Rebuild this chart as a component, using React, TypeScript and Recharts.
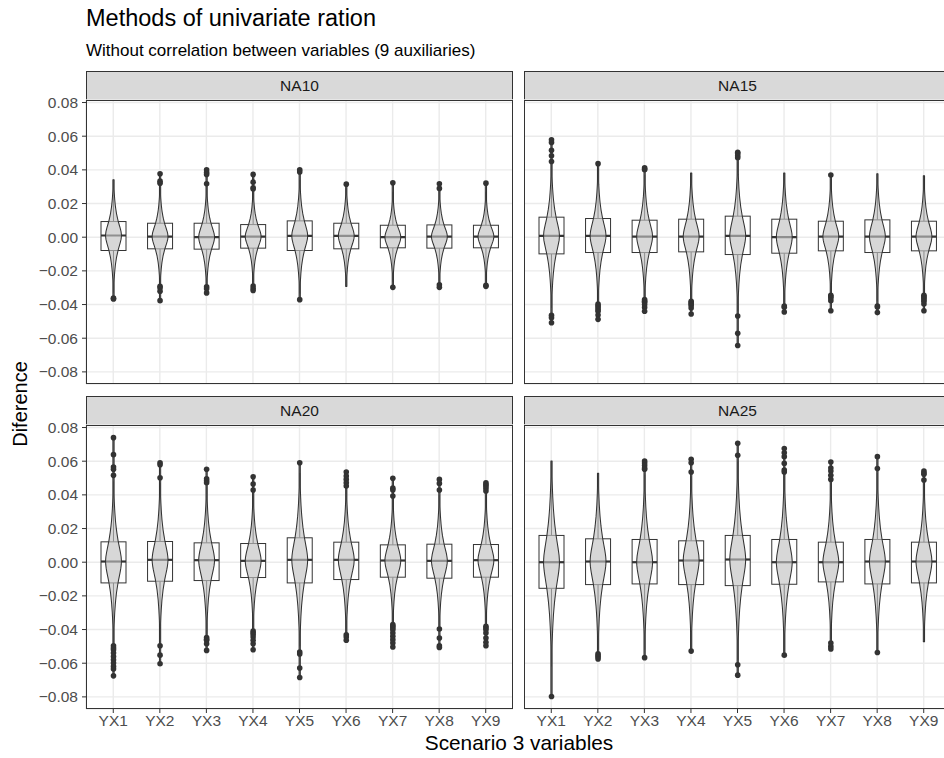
import { Bar, CartesianGrid, ComposedChart, XAxis, YAxis } from "recharts";

const categories = ["YX1", "YX2", "YX3", "YX4", "YX5", "YX6", "YX7", "YX8", "YX9"];
const yTicks = [-0.08, -0.06, -0.04, -0.02, 0, 0.02, 0.04, 0.06, 0.08];

// NA10
const na10Q1 = [-0.0079, -0.0069, -0.0071, -0.0065, -0.0079, -0.0069, -0.0063, -0.0065, -0.0063];
const na10Median = [0.001, 0.0004, 0, 0.0004, 0.0008, 0.0008, 0, 0.0004, 0.0004];
const na10Q3 = [0.0093, 0.0083, 0.0083, 0.0075, 0.0097, 0.0083, 0.0071, 0.0073, 0.0071];
const na10Low = [-0.033, -0.0285, -0.028, -0.027, -0.0335, -0.0292, -0.0265, -0.0265, -0.0265];
const na10High = [0.0341, 0.0305, 0.03, 0.027, 0.034, 0.0295, 0.027, 0.027, 0.027];
const na10Outliers = [
  [-0.0367, -0.0362],
  [0.0377, 0.0333, 0.0321, -0.0292, -0.0302, -0.0321, -0.0377],
  [0.0401, 0.0385, 0.0373, 0.0317, -0.0294, -0.0306, -0.0331],
  [0.0373, 0.0327, 0.0294, 0.0286, -0.029, -0.0304, -0.0317],
  [0.04, 0.0388, -0.0371],
  [0.0315],
  [0.0323, -0.0298],
  [0.0317, 0.029, -0.0282, -0.0298],
  [0.0321, -0.0286, -0.0292],
];

// NA15
const na15Q1 = [-0.0099, -0.0091, -0.0091, -0.0087, -0.0103, -0.0095, -0.0081, -0.0091, -0.0081];
const na15Median = [0.0008, 0.0008, 0.0004, 0.0004, 0.0008, 0, 0.0004, 0.0004, 0.0004];
const na15Q3 = [0.0119, 0.0111, 0.0101, 0.0107, 0.0125, 0.0107, 0.0095, 0.0103, 0.0095];
const na15Low = [-0.042, -0.0385, -0.036, -0.037, -0.044, -0.0395, -0.033, -0.038, -0.033];
const na15High = [0.043, 0.041, 0.037, 0.0381, 0.045, 0.0381, 0.035, 0.0377, 0.0365];
const na15Outliers = [
  [0.0579, 0.0563, 0.0516, 0.0484, 0.045, -0.0464, -0.0478, -0.0508],
  [0.0437, -0.0397, -0.0407, -0.0417, -0.043, -0.044, -0.0462, -0.0488],
  [0.0413, 0.0405, 0.0401, -0.0371, -0.038, -0.0387, -0.04, -0.0417, -0.044],
  [-0.0381, -0.039, -0.0397, -0.0405, -0.0421, -0.0456],
  [0.0504, 0.0497, 0.0484, 0.0472, -0.0468, -0.0571, -0.0643],
  [-0.0409, -0.0416, -0.0444],
  [0.0369, -0.0345, -0.0353, -0.0361, -0.0377, -0.0437],
  [-0.0409, -0.0415, -0.0448],
  [-0.0345, -0.0353, -0.0361, -0.0371, -0.0381, -0.0397, -0.0437],
];

// NA20
const na20Q1 = [-0.0123, -0.0113, -0.0109, -0.0091, -0.0123, -0.0103, -0.0089, -0.0095, -0.0089];
const na20Median = [0.0004, 0.0014, 0.0012, 0.0008, 0.0014, 0.0014, 0.001, 0.0008, 0.0012];
const na20Q3 = [0.0121, 0.0123, 0.0115, 0.0111, 0.0145, 0.0119, 0.0103, 0.0107, 0.0105];
const na20Low = [-0.048, -0.046, -0.043, -0.039, -0.05, -0.042, -0.0355, -0.038, -0.0365];
const na20High = [0.048, 0.047, 0.045, 0.041, 0.053, 0.044, 0.038, 0.04, 0.04];
const na20Outliers = [
  [0.074, 0.0639, 0.0565, 0.0552, 0.0516, -0.0496, -0.051, -0.052, -0.054, -0.056, -0.058, -0.0599, -0.0619, -0.0635, -0.0675],
  [0.0591, 0.0579, 0.0502, -0.0496, -0.0552, -0.0603],
  [0.0552, 0.0496, 0.0484, 0.0472, -0.0448, -0.0458, -0.0464, -0.0484, -0.0524],
  [0.0508, 0.0464, 0.0429, -0.0409, -0.0419, -0.0429, -0.0444, -0.0464, -0.0484, -0.052],
  [0.0591, -0.0534, -0.0545, -0.0629, -0.0685],
  [0.0536, 0.0512, 0.0492, 0.0472, 0.0452, -0.0431, -0.0444, -0.0464],
  [0.0498, 0.044, 0.0429, 0.0393, -0.0371, -0.0381, -0.0391, -0.0401, -0.0421, -0.044, -0.046, -0.048, -0.0504],
  [0.0492, 0.0468, 0.0429, -0.0397, -0.045, -0.0496, -0.0506],
  [0.0472, 0.0462, 0.0452, 0.044, 0.0423, -0.0381, -0.0391, -0.0401, -0.0421, -0.045, -0.0476, -0.0496],
];

// NA25
const na25Q1 = [-0.0155, -0.0133, -0.0129, -0.0133, -0.0139, -0.0131, -0.0117, -0.0129, -0.0123];
const na25Median = [0, 0.0004, 0, 0.001, 0.0016, 0, 0, 0.0004, 0.0004];
const na25Q3 = [0.0159, 0.0139, 0.0135, 0.0127, 0.0159, 0.0135, 0.0119, 0.0135, 0.0119];
const na25Low = [-0.062, -0.052, -0.052, -0.051, -0.058, -0.053, -0.046, -0.052, -0.0472];
const na25High = [0.0601, 0.0528, 0.052, 0.051, 0.06, 0.052, 0.047, 0.053, 0.047];
const na25Outliers = [
  [-0.0798],
  [-0.0544, -0.0555, -0.0563, -0.0575],
  [0.0601, 0.059, 0.0575, 0.056, 0.0552, -0.0567],
  [0.0611, 0.0591, 0.0536, -0.0528],
  [0.0706, 0.0635, -0.0609, -0.0671],
  [0.0675, 0.065, 0.0627, 0.0587, 0.0548, 0.0536, -0.0552],
  [0.0595, 0.056, 0.0542, 0.0516, 0.0492, -0.048, -0.05, -0.0516],
  [0.0627, 0.0556, -0.0536],
  [0.0542, 0.053, 0.0522, 0.0488],
];

// violin outline: relative half-width vs distance from the median (in half-IQRs)
const violinProfile = [
  [0, 1], [0.25, 0.95], [0.5, 0.84], [0.75, 0.71], [1, 0.58], [1.5, 0.38], [2, 0.24],
  [2.5, 0.15], [3, 0.09], [3.5, 0.055], [4, 0.033], [5, 0.013], [6, 0.005], [8, 0],
];

const buildRows = (q1: number[], med: number[], q3: number[], low: number[], high: number[], out: number[][]) =>
  categories.map((name, i) => ({
    name,
    range: [Math.min(low[i], ...out[i]), Math.max(high[i], ...out[i])],
    q1: q1[i],
    med: med[i],
    q3: q3[i],
    low: low[i],
    high: high[i],
    out: out[i],
  }));

const na10Rows = buildRows(na10Q1, na10Median, na10Q3, na10Low, na10High, na10Outliers);
const na15Rows = buildRows(na15Q1, na15Median, na15Q3, na15Low, na15High, na15Outliers);
const na20Rows = buildRows(na20Q1, na20Median, na20Q3, na20Low, na20High, na20Outliers);
const na25Rows = buildRows(na25Q1, na25Median, na25Q3, na25Low, na25High, na25Outliers);

const profileAt = (z: number) => {
  for (let i = 1; i < violinProfile.length; i++) {
    const [z1, w1] = violinProfile[i];
    if (z <= z1) {
      const [z0, w0] = violinProfile[i - 1];
      return w0 + ((z - z0) / (z1 - z0)) * (w1 - w0);
    }
  }
  return 0;
};

const DARK = "#333333";
const VIOLIN_HALF = 8;

const renderViolin = (props: any) => {
  const { x, y, width, height, payload } = props;
  const [lo, hi] = payload.range;
  const top = Math.min(y, y + height);
  const bottom = Math.max(y, y + height);
  // same linear scale the bar was placed with
  const toY = (v: number) => top + ((hi - v) / (hi - lo)) * (bottom - top);
  const cx = x + width / 2;
  const halfIqr = (payload.q3 - payload.q1) / 2;

  const steps = 60;
  const right: string[] = [];
  const left: string[] = [];
  for (let k = 0; k <= steps; k++) {
    const v = hi - ((hi - lo) * k) / steps;
    const w = Math.max(0.6, VIOLIN_HALF * profileAt(Math.abs(v - payload.med) / halfIqr));
    const py = toY(v).toFixed(2);
    right.push(`${(cx + w).toFixed(2)},${py}`);
    left.unshift(`${(cx - w).toFixed(2)},${py}`);
  }
  const d = `M${right.join("L")}L${left.join("L")}Z`;

  return (
    <g>
      <line x1={cx} x2={cx} y1={toY(payload.q3)} y2={toY(payload.high)} stroke={DARK} strokeWidth={1} />
      <line x1={cx} x2={cx} y1={toY(payload.q1)} y2={toY(payload.low)} stroke={DARK} strokeWidth={1} />
      <rect x={x} y={toY(payload.q3)} width={width} height={toY(payload.q1) - toY(payload.q3)} fill="#ffffff" stroke={DARK} strokeWidth={1} />
      <line x1={x} x2={x + width} y1={toY(payload.med)} y2={toY(payload.med)} stroke={DARK} strokeWidth={2.2} />
      <path d={d} fill="#c2c2c2" fillOpacity={0.65} stroke={DARK} strokeWidth={1.05} strokeLinejoin="round" />
      {payload.out.map((v: number, i: number) => (
        <circle key={i} cx={cx} cy={toY(v)} r={2.8} fill={DARK} />
      ))}
    </g>
  );
};

const fmt = (v: number) => (v < 0 ? "\u2212" + Math.abs(v).toFixed(2) : v.toFixed(2));

const PANEL_W = 427;
const PANEL_H = 284;
const Y_AXIS_W = 86;
const X_AXIS_H = 40;
const PAD = 12;

function Facet({ rows, label, left, top, withY, withX }: any) {
  const chartLeft = left - (withY ? Y_AXIS_W : 0);
  return (
    <>
      <div
        style={{
          position: "absolute", left, top: top - 29, width: PANEL_W, height: 30, boxSizing: "border-box",
          background: "#d9d9d9", border: `1px solid ${DARK}`, display: "flex", alignItems: "center",
          justifyContent: "center", fontSize: 15.5, color: "#1a1a1a",
        }}
      >
        {label}
      </div>
      <div style={{ position: "absolute", left: chartLeft, top: top - PAD }}>
        <ComposedChart
          width={PANEL_W + (withY ? Y_AXIS_W : 0)}
          height={PANEL_H + PAD * 2 + (withX ? X_AXIS_H : 0)}
          data={rows}
          margin={{ top: PAD, right: 0, bottom: PAD, left: 0 }}
        >
          <CartesianGrid stroke="#ebebeb" strokeWidth={1.4} />
          <XAxis
            dataKey="name"
            type="category"
            padding={{ left: 4, right: 4 }}
            hide={!withX}
            height={X_AXIS_H}
            interval={0}
            axisLine={false}
            tickLine={{ stroke: DARK }}
            tickSize={4}
            tickMargin={2}
            tick={{ fill: "#4d4d4d", fontSize: 15.5 }}
          />
          <YAxis
            type="number"
            domain={[-0.0872, 0.0815]}
            allowDataOverflow
            ticks={yTicks}
            interval={0}
            hide={!withY}
            width={Y_AXIS_W}
            axisLine={false}
            tickLine={{ stroke: DARK }}
            tickSize={4}
            tickMargin={4}
            tickFormatter={fmt}
            tick={{ fill: "#4d4d4d", fontSize: 15.5 }}
          />
          <Bar dataKey="range" barSize={25} shape={renderViolin} isAnimationActive={false} />
        </ComposedChart>
      </div>
      <div
        style={{
          position: "absolute", left, top, width: PANEL_W, height: PANEL_H, boxSizing: "border-box",
          border: `1px solid ${DARK}`, pointerEvents: "none",
        }}
      />
    </>
  );
}

export default function App() {
  return (
    <div
      style={{
        position: "absolute", left: 0, top: 0, width: 944, height: 758, overflow: "hidden",
        background: "#ffffff", fontFamily: "'Liberation Sans', Arial, sans-serif", color: "#000",
      }}
    >
      <div style={{ position: "absolute", left: 86, top: 7, fontSize: 23.5, lineHeight: 1, whiteSpace: "nowrap" }}>
        Methods of univariate ration
      </div>
      <div style={{ position: "absolute", left: 86, top: 42, fontSize: 17, lineHeight: 1, whiteSpace: "nowrap" }}>
        Without correlation between variables (9 auxiliaries)
      </div>

      <Facet rows={na10Rows} label="NA10" left={86} top={100} withY withX={false} />
      <Facet rows={na15Rows} label="NA15" left={524} top={100} withY={false} withX={false} />
      <Facet rows={na20Rows} label="NA20" left={86} top={425} withY withX />
      <Facet rows={na25Rows} label="NA25" left={524} top={425} withY={false} withX />

      <div
        style={{
          position: "absolute", left: 20, top: 404, fontSize: 20, lineHeight: 1, whiteSpace: "nowrap",
          transform: "translate(-50%, -50%) rotate(-90deg)",
        }}
      >
        Diference
      </div>
      <div
        style={{
          position: "absolute", left: 519, top: 733, fontSize: 20.8, lineHeight: 1, whiteSpace: "nowrap",
          transform: "translateX(-50%)",
        }}
      >
        Scenario 3 variables
      </div>
    </div>
  );
}
